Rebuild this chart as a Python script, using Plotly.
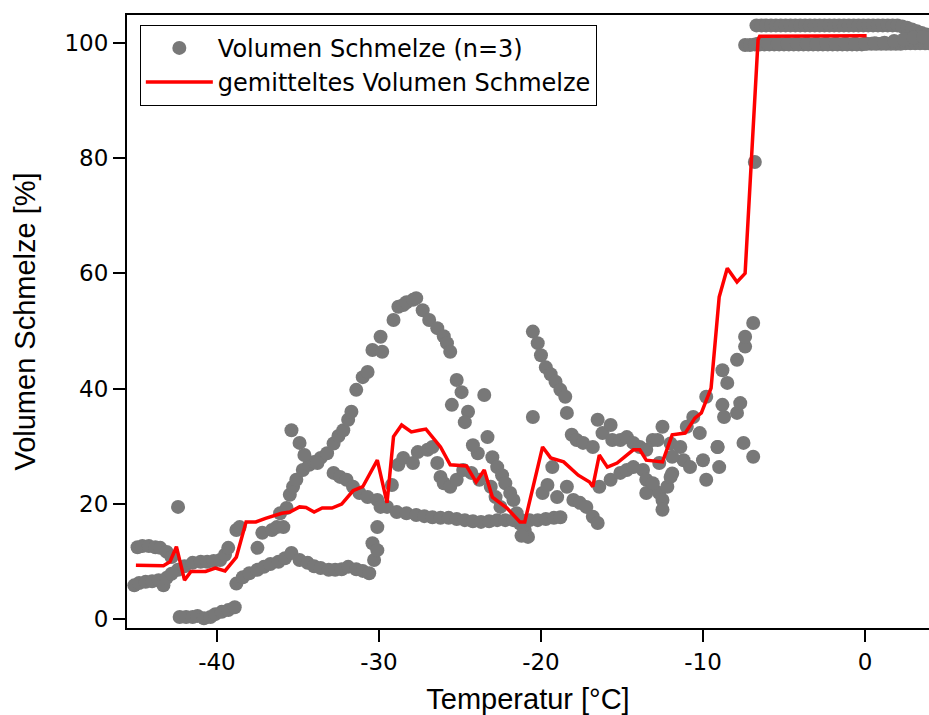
import plotly.graph_objects as go

# Measured melt volume, three runs (temperature in °C, volume in %)
run1_temp = [-44.9, -44.6, -44.2, -43.8, -43.5, -43.1, -42.8, -42.4,
             -42.4, -42.0, -41.5, -41.0, -40.6, -40.2, -39.8, -39.5, -39.3,
             -38.8, -38.6, -37.2, -36.6, -36.3, -35.9, -36.1, -35.7,
             -35.5, -35.3, -35.1, -34.7, -34.3, -34.0, -33.6, -33.2, -32.8,
             -32.5, -32.2, -31.9, -31.7, -31.4, -31.0, -30.7, -30.4, -29.9,
             -29.8, -29.1, -28.8, -28.5, -28.3, -27.9, -27.7, -27.3, -26.9,
             -26.4, -26.0, -25.8, -25.6, -25.2, -24.9, -25.5, -24.5, -24.7,
             -23.5, -23.3, -23.9, -23.0, -22.7, -22.4, -22.2, -21.9, -21.7,
             -21.5, -21.3, -21.0, -20.8, -21.2,
             -19.9, -19.6, -19.3, -19.0, -18.4, -18.0, -17.6, -17.2, -16.8,
             -16.5, -16.4, -15.7, -15.1, -14.7, -14.3, -13.7, -13.5, -13.1,
             -12.7, -12.5, -12.5, -12.2, -11.9, -11.2, -10.8, -10.0, -9.8,
             -9.0, -9.1, -7.9, -7.9, -7.4, -7.4, -6.9, -6.8,
             -6.7, -6.4, -6.1, -5.8, -5.5, -5.2, -4.9, -4.6, -4.3, -4.0,
             -3.7, -3.4, -3.1, -2.8, -2.5, -2.2, -1.9, -1.6, -1.3, -1.0,
             -0.7, -0.4, -0.1, 0.2, 0.5, 0.8, 1.1, 1.4, 1.7, 2.0, 2.3, 2.6,
             2.9, 3.2, 3.5, 3.8]
run1_vol = [12.5, 12.7, 12.7, 12.5, 12.4, 11.7, 10.8, 19.5,
            8.6, 9.2, 9.8, 10.0, 10.0, 10.1, 10.3, 11.2, 12.4,
            15.5, 16.0, 15.0, 15.5, 16.0, 16.0, 18.4, 19.3,
            21.6, 23.0, 24.2, 25.9, 26.8, 27.3, 28.0, 28.8, 30.5,
            31.8, 32.8, 34.6, 36.0, 39.8, 42.0, 42.9, 46.7, 49.0,
            46.4, 51.9, 54.2, 54.5, 55.0, 55.4, 55.7, 53.6, 51.9,
            50.5, 49.1, 47.9, 46.4, 41.5, 39.4, 37.2, 36.0, 34.2,
            38.9, 31.6, 28.8, 28.1, 26.4, 25.0, 23.6, 21.9, 20.7,
            18.4, 16.6, 15.5, 14.3, 14.5,
            21.9, 23.3, 26.4, 21.2, 23.0, 20.7, 20.2, 19.5, 17.8,
            16.7, 23.0, 24.2, 25.4, 25.9, 26.4, 25.9, 24.2, 23.0,
            21.9, 20.7, 19.0, 23.0, 25.3, 27.6, 26.4, 27.6, 24.2,
            26.4, 29.9, 35.8, 45.0, 47.3, 49.0, 51.4, 79.3,
            103.0, 103.0, 103.0, 103.0, 103.0, 103.0, 103.0, 103.0, 103.0, 103.0,
            103.0, 103.0, 103.0, 103.0, 103.0, 103.0, 103.0, 103.0, 103.0, 103.0,
            103.0, 103.0, 103.0, 103.0, 103.0, 103.0, 103.0, 103.0, 103.0, 103.0,
            102.8, 102.6, 102.3, 102.0, 101.7, 101.4]

run2_temp = [-45.1, -44.8, -44.4, -44.0, -43.6, -43.3, -43.1, -42.8,
             -38.8, -38.4, -38.0, -37.5, -37.1, -36.7, -36.2, -35.8, -35.4,
             -34.9, -34.4, -34.0, -33.6, -33.1, -32.7, -32.3, -31.9, -31.4,
             -31.0, -30.6, -30.3, -30.4, -30.1, -30.1,
             -29.2, -28.8, -28.5, -27.9, -27.6, -27.0, -26.7, -26.4, -26.2,
             -26.0, -25.6, -25.2, -24.8, -24.3, -24.2, -23.8, -23.1, -22.8,
             -22.5,
             -20.5, -20.5, -20.2, -20.0, -19.7, -19.4, -19.1, -18.8, -18.5,
             -18.4, -18.1, -17.8, -17.4, -16.8, -16.5, -16.2, -15.7, -15.6,
             -15.1, -14.7, -14.3, -13.9, -13.5, -13.1, -12.8, -12.5, -12.0,
             -11.4, -11.0, -10.6, -10.2, -9.8, -8.8, -8.7, -8.8, -8.5, -7.7,
             -7.4, -7.1, -6.8, -6.5, -6.2, -5.9, -5.6, -5.3, -5.0, -4.7,
             -4.4, -4.1, -3.8, -3.5, -3.2, -2.9, -2.6, -2.3, -2.0, -1.7,
             -1.4, -1.1, -0.8, -0.5, -0.2, 0.1, 0.4, 0.7, 1.0, 1.3,
             1.6, 1.9, 2.2, 2.5, 2.8, 3.1, 3.4, 3.7, 4.0]
run2_vol = [5.9, 6.3, 6.5, 6.6, 6.8, 5.9, 7.2, 7.9,
            6.2, 7.3, 8.0, 8.6, 9.1, 9.6, 10.0, 10.6, 11.5,
            10.3, 9.8, 9.2, 8.9, 8.6, 8.6, 8.7, 9.1, 8.7,
            8.4, 8.0, 10.3, 13.2, 12.0, 16.0,
            23.3, 26.8, 28.0, 27.1, 29.0, 29.4, 29.9, 27.1, 24.7,
            23.6, 23.0, 24.2, 25.9, 25.4, 30.2, 24.2, 23.0, 21.2,
            19.5,
            35.1, 49.9, 47.9, 45.8, 43.7, 42.5, 41.2, 39.8, 38.6,
            35.8, 32.0, 31.1, 30.6, 29.9, 34.6, 32.3, 33.7, 31.1,
            31.1, 31.6, 30.6, 29.9, 29.4, 31.1, 31.1, 33.4, 30.5,
            29.9, 33.4, 35.1, 32.3, 38.6, 37.2, 35.1, 43.2, 41.0, 37.5,
            99.6, 99.6, 99.7, 99.7, 99.7, 99.7, 99.7, 99.7, 99.7, 99.7,
            99.7, 99.7, 99.7, 99.7, 99.7, 99.7, 99.7, 99.7, 99.7, 99.7,
            99.7, 99.7, 99.7, 99.7, 99.7, 99.8, 99.8, 99.8, 99.8, 99.8,
            99.8, 99.8, 99.8, 99.9, 99.9, 99.9, 99.9, 99.9, 99.9]

run3_temp = [-42.3, -41.9, -41.5, -41.2, -40.8, -40.4, -40.1, -39.7, -39.3,
             -38.9, -37.5,
             -35.4, -34.9, -34.6, -33.8, -32.8, -32.4, -32.0, -31.6, -31.2,
             -30.7, -30.1, -29.9, -29.5, -28.9, -28.3, -27.7, -27.2, -26.7,
             -26.2, -25.7, -25.2, -24.7, -24.2, -23.7, -23.2, -22.7, -22.2,
             -21.7, -21.2, -20.7, -20.2, -19.7, -19.2, -18.8,
             -13.5, -13.1, -12.7, -12.0, -11.9, -9.1, -7.5, -6.9,
             -6.6, -6.0, -5.4, -4.8, -4.2, -3.6, -3.0, -2.4, -1.8, -1.2,
             -0.6, 0.0, 0.6, 1.2, 1.8, 2.4, 3.0, 3.6]
run3_vol = [0.4, 0.4, 0.4, 0.6, 0.2, 0.4, 0.9, 1.3, 1.6,
            2.1, 12.4,
            32.8, 30.6, 28.5, 27.1, 25.4, 24.7, 24.2, 23.0, 21.9,
            21.2, 20.7, 19.5, 19.5, 18.6, 18.4, 18.1, 17.9, 17.7,
            17.6, 17.6, 17.4, 17.2, 17.0, 16.9, 17.0, 17.2, 17.2,
            17.2, 17.2, 17.2, 17.2, 17.4, 17.6, 17.7,
            21.9, 23.6, 27.1, 24.7, 28.2, 29.9, 30.6, 28.2,
            99.8, 99.8, 99.8, 99.8, 99.8, 99.8, 99.8, 99.8, 99.8, 99.8,
            99.8, 99.8, 99.9, 100.0, 100.3, 100.6, 100.9, 101.0]

# Averaged melt volume
mean_temp = [-45.0, -43.3, -42.9, -42.5, -42.0, -41.6, -40.7, -40.1, -39.5,
             -38.8, -38.2, -37.6, -37.0, -36.0, -35.5, -34.9, -34.5, -34.0,
             -33.5, -32.9, -32.3, -31.6, -31.0, -30.1, -29.5, -29.1, -28.6,
             -28.0, -27.5, -27.1, -26.2, -25.6, -24.6, -24.0, -23.5, -23.0,
             -22.1, -21.3, -21.0, -19.9, -19.4, -18.6, -17.7, -17.0, -16.8,
             -16.4, -15.9, -15.3, -14.3, -13.9, -13.5, -12.5, -11.9, -11.1,
             -10.5, -10.1, -9.5, -9.0, -8.5, -7.9, -7.4, -6.6, -6.5, -3.0, 0.1]
mean_vol = [9.4, 9.3, 10.0, 12.6, 6.8, 8.3, 8.3, 8.9, 8.4,
            10.8, 16.9, 16.9, 17.5, 18.4, 18.6, 19.5, 19.4, 18.6,
            19.3, 19.3, 20.0, 22.3, 23.0, 27.6, 20.2, 31.7, 33.7,
            32.5, 32.8, 33.0, 29.9, 26.8, 26.6, 23.8, 25.9, 21.2,
            19.3, 16.9, 16.9, 29.9, 28.0, 27.3, 25.0, 23.8, 23.0,
            28.5, 26.4, 27.1, 29.4, 29.4, 27.6, 27.3, 32.0, 32.3,
            34.9, 35.8, 40.1, 55.9, 60.9, 58.5, 60.0, 100.5, 101.1, 101.1, 101.2]

x_ticks = [-40, -30, -20, -10, 0]
x_tick_labels = ["-40", "-30", "-20", "-10", "0"]
y_ticks = [0, 20, 40, 60, 80, 100]

tick_font = "DejaVu Sans"
title_font = "Liberation Sans"

fig = go.Figure()
fig.add_trace(go.Scatter(
    x=run1_temp + run2_temp + run3_temp,
    y=run1_vol + run2_vol + run3_vol,
    mode="markers",
    name="Volumen Schmelze (n=3)",
    marker=dict(size=14, color="rgb(120,120,120)", line=dict(width=0)),
))
fig.add_trace(go.Scatter(
    x=mean_temp, y=mean_vol,
    mode="lines",
    name="gemitteltes Volumen Schmelze",
    line=dict(color="#ff0000", width=3.5),
))

axis_common = dict(
    showgrid=False, zeroline=False, showline=True,
    linecolor="black", linewidth=2,
    ticks="outside", ticklen=12, tickwidth=2, tickcolor="black",
    tickfont=dict(family=tick_font, size=23, color="black"),
)

fig.update_xaxes(
    range=[-45.55, 3.95], tickvals=x_ticks, ticktext=x_tick_labels, mirror=True,
    title=dict(text="Temperatur [°C]", font=dict(family=title_font, size=29, color="black"), standoff=15),
    **axis_common,
)
fig.update_yaxes(
    range=[-1.5, 104.8], tickvals=y_ticks, mirror=False,
    title=dict(text="Volumen Schmelze [%]", font=dict(family=title_font, size=29, color="black"), standoff=20),
    **axis_common,
)

fig.update_layout(
    width=929, height=715,
    margin=dict(l=127, r=0, t=15, b=87),
    plot_bgcolor="white", paper_bgcolor="white",
    font=dict(family=tick_font, size=23, color="black"),
    showlegend=True,
    legend=dict(
        x=0.016, y=0.984, xanchor="left", yanchor="top",
        bgcolor="white", bordercolor="black", borderwidth=1,
        font=dict(family=tick_font, size=24, color="black"),
        tracegroupgap=0, itemwidth=67,
    ),
)

fig.write_html("out.html")
